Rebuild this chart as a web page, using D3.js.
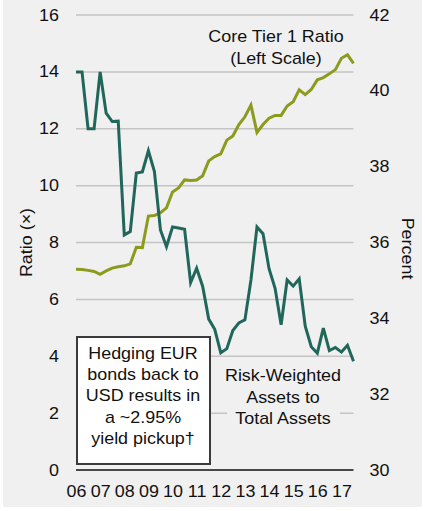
<!DOCTYPE html>
<html>
<head>
<meta charset="utf-8">
<script src="https://cdn.jsdelivr.net/npm/d3@7"></script>
<style>
  html, body { margin: 0; padding: 0; background: #ffffff; }
  svg { display: block; }
  text { font-family: "Liberation Sans", Arial, sans-serif; fill: #111; }
</style>
</head>
<body>
<svg id="chart" width="425" height="511"></svg>
<script>
// ---- data (quarterly, 2006Q1 .. 2017Q3) ----
const yearTicks = [2006, 2007, 2008, 2009, 2010, 2011, 2012, 2013, 2014, 2015, 2016, 2017];
const yearLabels = ["06", "07", "08", "09", "10", "11", "12", "13", "14", "15", "16", "17"];
const leftTicks = [0, 2, 4, 6, 8, 10, 12, 14, 16];
const rightTicks = [30, 32, 34, 36, 38, 40, 42];

// Core Tier 1 Ratio (left scale, ratio x)
const coreTier1 = [7.06, 7.05, 7.02, 6.98, 6.88, 7.0, 7.1, 7.15, 7.18, 7.25,
  7.83, 7.82, 8.93, 8.95, 9.05, 9.22, 9.78, 9.92, 10.2, 10.18,
  10.2, 10.35, 10.87, 11.02, 11.12, 11.6, 11.75, 12.15, 12.42, 12.83,
  11.87, 12.15, 12.37, 12.47, 12.47, 12.8, 12.95, 13.37, 13.2, 13.38,
  13.72, 13.8, 13.93, 14.08, 14.48, 14.6, 14.3];

// Risk-Weighted Assets to Total Assets (right scale, percent)
const rwaToTA = [40.5, 40.5, 39.0, 39.0, 40.5, 39.41, 39.19, 39.2, 36.2, 36.29,
  37.83, 37.86, 38.42, 37.87, 36.33, 35.89, 36.41, 36.38, 36.35, 34.94,
  35.32, 34.84, 33.98, 33.71, 33.09, 33.2, 33.68, 33.88, 33.96, 35.01,
  36.41, 36.23, 35.31, 34.79, 33.83, 35.01, 34.85, 35.04, 33.79, 33.25,
  33.08, 33.74, 33.15, 33.23, 33.11, 33.29, 32.87];

const boxLines = ["Hedging EUR", "bonds back to", "USD results in", "a ~2.95%", "yield pickup\u2020"];
const coreLabel = ["Core Tier 1 Ratio", "(Left Scale)"];
const rwaLabel = ["Risk-Weighted", "Assets to", "Total Assets"];

// ---- layout ----
const plot = { left: 76, right: 353.5, top: 15, bottom: 470 };
const bg = "#f0f0f0";
const teal = "#20665a";
const olive = "#8c9a1e";
const FS = 16;          // font size
const SX = 1.12;        // horizontal glyph stretch seen in the reference

const svg = d3.select("#chart");
svg.append("rect").attr("x", 3).attr("y", 0).attr("width", 419).attr("height", 507).attr("fill", bg);

const x = d3.scaleLinear().domain([2006, 2017.5]).range([plot.left, plot.right]);
const yL = d3.scaleLinear().domain([0, 16]).range([plot.bottom, plot.top]);
const yR = d3.scaleLinear().domain([30, 42]).range([plot.bottom, plot.top]);
const tq = i => 2006 + i * 0.25;

// stretch axis tick text around its anchor point
function stretchTicks(g) {
  g.selectAll(".tick text").each(function () {
    const t = d3.select(this);
    const tx = +t.attr("x") || 0, ty = +t.attr("y") || 0;
    t.attr("x", 0).attr("y", 0)
      .attr("transform", `translate(${tx},${ty}) scale(${SX},1)`)
      .attr("font-size", FS)
      .style("font-family", "Liberation Sans, Arial, sans-serif")
      .attr("fill", "#111");
  });
}

// gridlines
svg.append("g").selectAll("line").data(leftTicks.filter(d => d > 0)).join("line")
  .attr("x1", plot.left).attr("x2", plot.right)
  .attr("y1", d => yL(d)).attr("y2", d => yL(d))
  .attr("stroke", "#c4c4c4").attr("stroke-width", 1.5);

// left axis
const gL = svg.append("g").attr("transform", `translate(${plot.left},0)`)
  .call(d3.axisLeft(yL).tickValues(leftTicks).tickSize(0).tickPadding(17));
gL.select(".domain").remove();
stretchTicks(gL);

// right axis
const gR = svg.append("g").attr("transform", `translate(${plot.right},0)`)
  .call(d3.axisRight(yR).tickValues(rightTicks).tickSize(0).tickPadding(16));
gR.select(".domain").remove();
stretchTicks(gR);

// bottom axis
const gB = svg.append("g").attr("transform", `translate(0,${plot.bottom})`)
  .call(d3.axisBottom(x).tickValues(yearTicks).tickFormat((d, i) => yearLabels[i]).tickSize(0).tickPadding(16));
gB.select(".domain").remove();
stretchTicks(gB);

// zero line
svg.append("line").attr("x1", plot.left).attr("x2", plot.right)
  .attr("y1", yL(0)).attr("y2", yL(0)).attr("stroke", "#111").attr("stroke-width", 1.5);

// axis titles
svg.append("text").attr("transform", `translate(31.5,${(plot.top + plot.bottom) / 2}) rotate(-90) scale(${SX},1)`)
  .attr("text-anchor", "middle").attr("font-size", FS).text("Ratio (\u00d7)");
svg.append("text").attr("transform", `translate(402,${(plot.top + plot.bottom) / 2 + 6}) rotate(90) scale(${SX},1)`)
  .attr("text-anchor", "middle").attr("font-size", FS).text("Percent");

// lines
const lineL = d3.line().x((d, i) => x(tq(i))).y(d => yL(d));
const lineR = d3.line().x((d, i) => x(tq(i))).y(d => yR(d));
svg.append("path").datum(coreTier1).attr("d", lineL).attr("fill", "none")
  .attr("stroke", olive).attr("stroke-width", 3).attr("stroke-linejoin", "miter");
svg.append("path").datum(rwaToTA).attr("d", lineR).attr("fill", "none")
  .attr("stroke", teal).attr("stroke-width", 3).attr("stroke-linejoin", "miter");

function textBlock(g, lines, cx, y0, dy) {
  g.selectAll("text.lbl").data(lines).join("text").attr("class", "lbl")
    .attr("transform", (d, i) => `translate(${cx},${y0 + i * dy}) scale(${SX},1)`)
    .attr("text-anchor", "middle").attr("font-size", FS).text(d => d);
}

// Core Tier 1 label
textBlock(svg.append("g"), coreLabel, 276, 42, 22);

// RWA label with background
const rg = svg.append("g");
rg.append("rect").attr("x", 227).attr("y", 364).attr("width", 113).attr("height", 66).attr("fill", bg);
textBlock(rg, rwaLabel, 283, 381, 21.6);

// annotation box
const bx = svg.append("g");
bx.append("rect").attr("x", 77).attr("y", 337).attr("width", 133).attr("height", 127)
  .attr("fill", "#ffffff").attr("stroke", "#3a3a3a").attr("stroke-width", 2);
textBlock(bx, boxLines, 143, 358.5, 21.4);
</script>
</body>
</html>
